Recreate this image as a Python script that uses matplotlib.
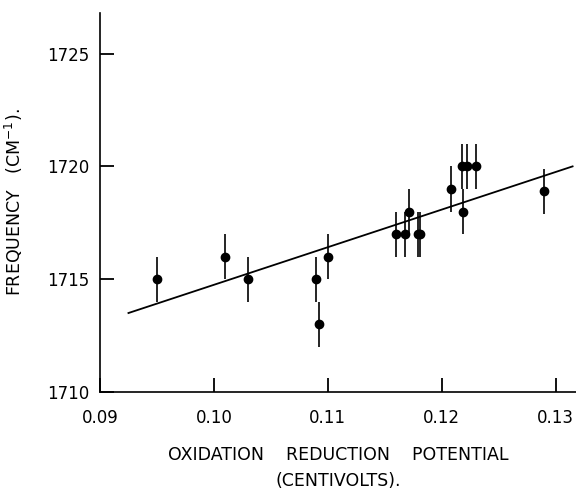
import matplotlib
matplotlib.use("Agg")
import matplotlib.pyplot as plt

# Data
potential = [0.0950, 0.1010, 0.1030, 0.1090, 0.1092, 0.1100,
             0.1160, 0.1168, 0.1171, 0.1179, 0.1181,
             0.1208, 0.1218, 0.1222, 0.1219, 0.1230, 0.1290]
frequency = [1715, 1716, 1715, 1715, 1713, 1716,
             1717, 1717, 1718, 1717, 1717,
             1719, 1720, 1720, 1718, 1720, 1718.9]
freq_err = [1.0] * len(frequency)

fit_x = [0.0925, 0.1315]
fit_y = [1713.5, 1720.0]

xticks = [0.09, 0.10, 0.11, 0.12, 0.13]
xticklabels = ["0.09", "0.10", "0.11", "0.12", "0.13"]
yticks = [1710, 1715, 1720, 1725]
yticklabels = ["1710", "1715", "1720", "1725"]

fig = plt.figure(figsize=(5.76, 4.92), dpi=100)
ax = fig.add_axes([0.1736, 0.2033, 0.8264, 0.7703])

ax.plot(fit_x, fit_y, color="black", lw=1.3)
ax.errorbar(potential, frequency, yerr=freq_err, fmt="o", color="black",
            ms=6, elinewidth=1.2, capsize=0)

ax.set_xlim(0.09, 0.1318)
ax.set_ylim(1710, 1726.8)
ax.set_xticks(xticks)
ax.set_xticklabels(xticklabels)
ax.set_yticks(yticks)
ax.set_yticklabels(yticklabels)

for s in ["top", "right"]:
    ax.spines[s].set_visible(False)
for s in ["left", "bottom"]:
    ax.spines[s].set_linewidth(1.2)

ax.tick_params(axis="both", direction="in", length=10, width=1.3,
               labelsize=12)
ax.tick_params(axis="y", pad=8)
ax.tick_params(axis="x", pad=12)

ax.set_xlabel("OXIDATION    REDUCTION    POTENTIAL\n(CENTIVOLTS).",
              fontsize=12.5, linespacing=1.6, labelpad=14)
ax.set_ylabel("FREQUENCY   (CM$^{-1}$).", fontsize=12.5)
ax.yaxis.set_label_coords(-0.157, 0.5)

fig.savefig("out.png", dpi=100)
